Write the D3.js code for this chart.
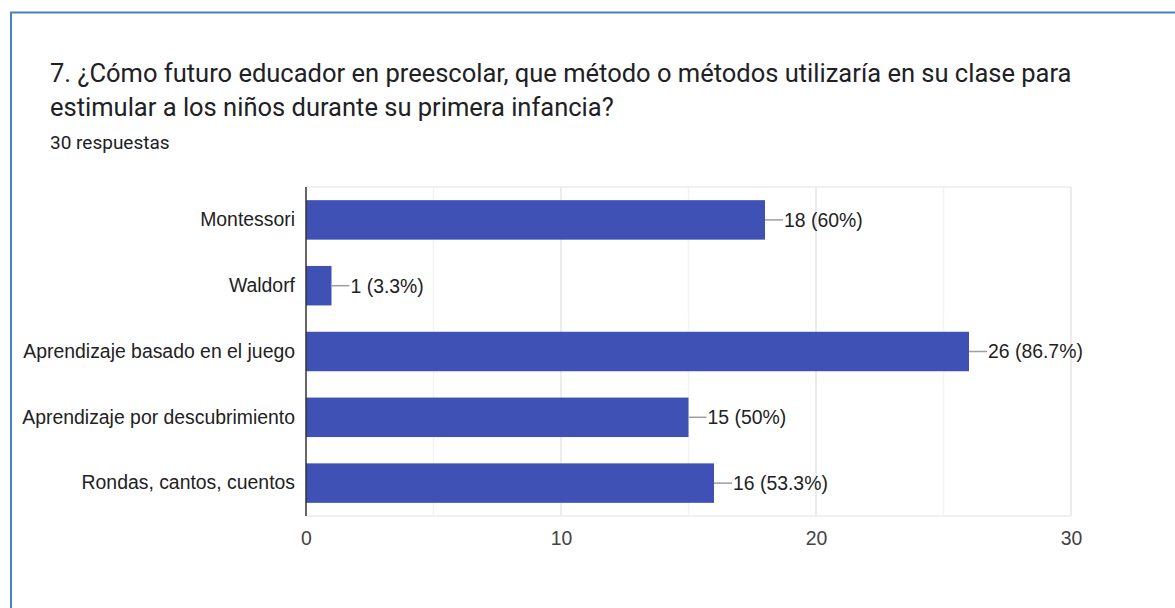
<!DOCTYPE html>
<html>
<head>
<meta charset="utf-8">
<script src="https://cdn.jsdelivr.net/npm/d3@7"></script>
<style>
  body { margin: 0; background: #fff; }
  svg { display: block; }
</style>
</head>
<body>
<svg></svg>
<script>
// responses per method
var categories = ['Montessori', 'Waldorf', 'Aprendizaje basado en el juego', 'Aprendizaje por descubrimiento', 'Rondas, cantos, cuentos']
var counts = [18, 1, 26, 15, 16]
var labels = ['18 (60%)', '1 (3.3%)', '26 (86.7%)', '15 (50%)', '16 (53.3%)']
var xTicks = [0, 10, 20, 30]
var gridTicks = [5, 10, 15, 20, 25, 30]

var width = 1175
var height = 608
var plotLeft = 306, plotRight = 1071, plotTop = 187, plotBottom = 516
var labelFont = '19.4px "Liberation Sans", Arial, sans-serif'

var data = categories.map((c, i) => ({ name: c, value: counts[i], label: labels[i] }))

var svg = d3.select('svg')
  .attr('width', width)
  .attr('height', height)

// card border
svg.append('path')
  .attr('d', 'M11,' + height + ' V12.5 H' + width)
  .attr('fill', 'none')
  .attr('stroke', '#4a80c8')
  .attr('stroke-width', 2)

svg.append('text')
  .attr('x', 50)
  .attr('y', 82)
  .style('font', '25.5px Roboto')
  .attr('fill', '#202124')
  .text('7. ¿Cómo futuro educador en preescolar, que método o métodos utilizaría en su clase para')

svg.append('text')
  .attr('x', 50)
  .attr('y', 116)
  .style('font', '25.5px Roboto')
  .attr('fill', '#202124')
  .text('estimular a los niños durante su primera infancia?')

svg.append('text')
  .attr('x', 50)
  .attr('y', 149)
  .style('font', '19px Roboto')
  .attr('fill', '#202124')
  .text('30 respuestas')

var xScale = d3.scaleLinear()
  .domain([0, 30])
  .range([plotLeft, plotRight])

var yScale = d3.scaleBand()
  .domain(categories)
  .range([plotTop, plotBottom])
  .paddingInner(0.4)
  .paddingOuter(0.2)

// gridlines
svg.append('g')
  .selectAll('line')
  .data(gridTicks)
  .enter()
  .append('line')
    .attr('x1', d => xScale(d))
    .attr('x2', d => xScale(d))
    .attr('y1', plotTop)
    .attr('y2', plotBottom)
    .attr('stroke', d => d % 10 === 0 ? '#e6e6e6' : '#f3f3f3')
    .attr('stroke-width', 1.5)

svg.append('line')
  .attr('x1', plotLeft).attr('x2', plotRight)
  .attr('y1', plotTop).attr('y2', plotTop)
  .attr('stroke', '#ececec')
  .attr('stroke-width', 1.5)

svg.append('line')
  .attr('x1', plotLeft).attr('x2', plotRight)
  .attr('y1', plotBottom).attr('y2', plotBottom)
  .attr('stroke', '#ececec')
  .attr('stroke-width', 1.5)

// bars
svg.selectAll('rect.bar')
  .data(data)
  .enter()
  .append('rect')
    .attr('class', 'bar')
    .attr('x', xScale(0))
    .attr('y', d => yScale(d.name))
    .attr('width', d => xScale(d.value) - xScale(0))
    .attr('height', yScale.bandwidth())
    .attr('fill', '#3f51b5')

// value connectors and labels
svg.selectAll('line.conn')
  .data(data)
  .enter()
  .append('line')
    .attr('class', 'conn')
    .attr('x1', d => xScale(d.value))
    .attr('x2', d => xScale(d.value) + 18)
    .attr('y1', d => yScale(d.name) + yScale.bandwidth() / 2)
    .attr('y2', d => yScale(d.name) + yScale.bandwidth() / 2)
    .attr('stroke', '#9e9e9e')
    .attr('stroke-width', 1.5)

svg.selectAll('text.val')
  .data(data)
  .enter()
  .append('text')
    .attr('class', 'val')
    .attr('x', d => xScale(d.value) + 19)
    .attr('y', d => yScale(d.name) + yScale.bandwidth() / 2)
    .attr('dy', '0.36em')
    .style('font', labelFont)
    .attr('fill', '#222')
    .text(d => d.label)

// y axis
var yAxis = svg.append('g')
  .attr('transform', 'translate(' + plotLeft + ',0)')
  .call(d3.axisLeft(yScale).tickSize(0).tickPadding(11))
yAxis.select('.domain')
  .attr('d', 'M0,' + plotTop + 'V' + plotBottom)
  .attr('stroke', '#333')
  .attr('stroke-width', 1.5)
yAxis.selectAll('text')
  .style('font', labelFont)
  .attr('fill', '#222')

// x axis
var xAxis = svg.append('g')
  .attr('transform', 'translate(0,' + plotBottom + ')')
  .call(d3.axisBottom(xScale).tickValues(xTicks).tickSize(0).tickPadding(15))
xAxis.select('.domain').remove()
xAxis.selectAll('text')
  .style('font', labelFont)
  .attr('fill', '#444')
</script>
</body>
</html>
